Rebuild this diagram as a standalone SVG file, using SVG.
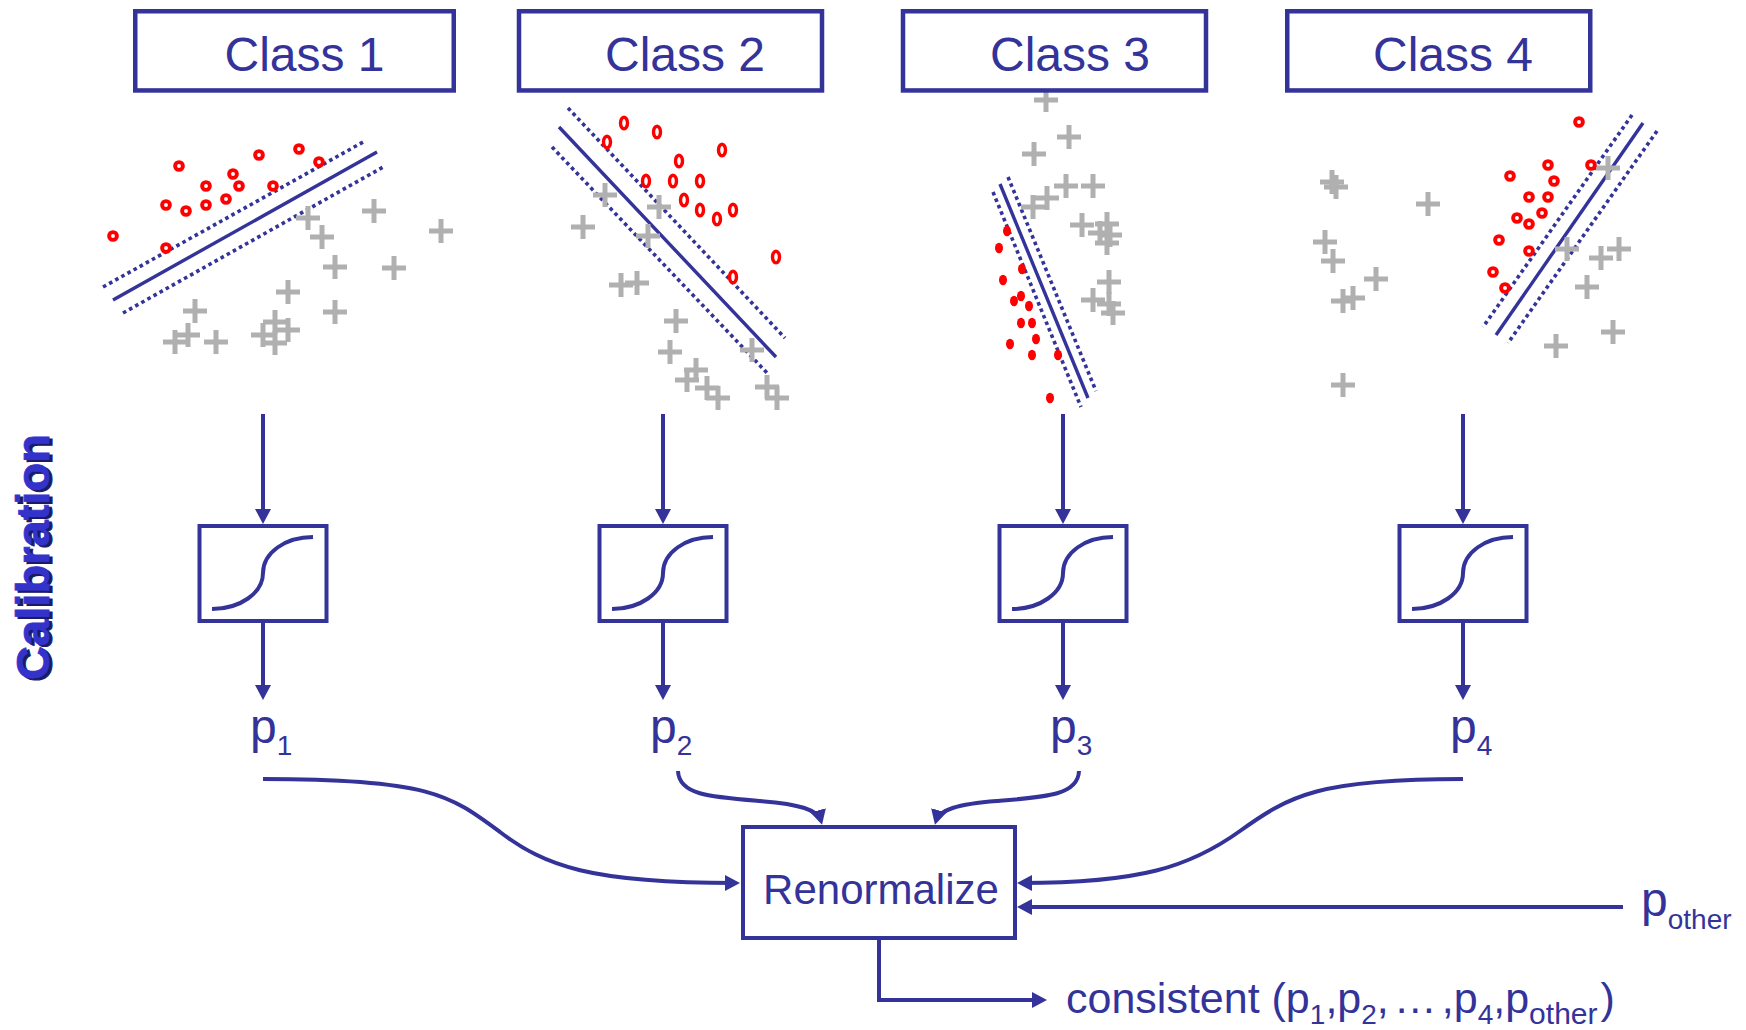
<svg xmlns="http://www.w3.org/2000/svg" width="1746" height="1030" viewBox="0 0 1746 1030">
<style>
.t{font-family:"Liberation Sans",Arial,Helvetica,sans-serif;fill:#333399}
.box{fill:#fff;stroke:#333399;stroke-width:4.5}
.cal{fill:#fff;stroke:#333399;stroke-width:4}
.sig{fill:none;stroke:#333399;stroke-width:4}
.sv{stroke:#333399;stroke-width:3.4;fill:none}
.dt{stroke:#333399;stroke-width:3.6;stroke-dasharray:3.6 3.4;fill:none}
.pl{stroke:#b0b0b0;stroke-width:5}
.ring{fill:#fff;stroke:#ff0000;stroke-width:3.9}
.oval{fill:#fff;stroke:#ff0000;stroke-width:3.4}
.fd{fill:#ff0000}
.conn{fill:none;stroke:#333399;stroke-width:4}
</style>
<defs>
<path id="plus" class="pl" d="M-12,0H12M0,-12V12"/>
<circle id="ring" class="ring" r="3.9"/>
<ellipse id="oval" class="oval" rx="3.5" ry="5.8"/>
<ellipse id="fdot" class="fd" rx="4" ry="5.3"/>
<marker id="ah" markerUnits="userSpaceOnUse" markerWidth="15" markerHeight="16" viewBox="0 0 15 16" refX="11" refY="8" orient="auto">
<path d="M0,0L15,8L0,16z" fill="#333399"/>
</marker>
</defs>

<!-- scatter plots -->
<g id="scatter-1">
<line class="sv" x1="113" y1="300" x2="377" y2="152"/>
<line class="dt" x1="103" y1="287" x2="365" y2="141"/>
<line class="dt" x1="123" y1="313" x2="385" y2="166"/>
<use href="#plus" x="308" y="218"/><use href="#plus" x="322" y="237"/><use href="#plus" x="374" y="211"/><use href="#plus" x="441" y="231"/>
<use href="#plus" x="335" y="267"/><use href="#plus" x="394" y="268"/><use href="#plus" x="288" y="292"/><use href="#plus" x="335" y="312"/>
<use href="#plus" x="195" y="311"/><use href="#plus" x="188" y="335"/><use href="#plus" x="175" y="342"/><use href="#plus" x="216" y="342"/>
<use href="#plus" x="275" y="322"/><use href="#plus" x="288" y="330"/><use href="#plus" x="263" y="335"/><use href="#plus" x="275" y="343"/>
<use href="#ring" x="113" y="236"/><use href="#ring" x="179" y="166"/><use href="#ring" x="166" y="205"/><use href="#ring" x="186" y="211"/>
<use href="#ring" x="206" y="186"/><use href="#ring" x="206" y="205"/><use href="#ring" x="226" y="199"/><use href="#ring" x="233" y="174"/>
<use href="#ring" x="239" y="186"/><use href="#ring" x="259" y="155"/><use href="#ring" x="273" y="186"/><use href="#ring" x="299" y="149"/>
<use href="#ring" x="319" y="162"/><use href="#ring" x="166" y="248"/>
</g>
<g id="scatter-2">
<line class="sv" x1="559" y1="127" x2="776" y2="357"/>
<line class="dt" x1="568" y1="108" x2="785" y2="338"/>
<line class="dt" x1="552" y1="147" x2="769" y2="375"/>
<use href="#plus" x="605" y="195"/><use href="#plus" x="659" y="207"/><use href="#plus" x="583" y="227"/><use href="#plus" x="648" y="236"/>
<use href="#plus" x="621" y="285"/><use href="#plus" x="637" y="283"/><use href="#plus" x="676" y="321"/><use href="#plus" x="670" y="352"/>
<use href="#plus" x="752" y="350"/><use href="#plus" x="696" y="370"/><use href="#plus" x="687" y="380"/><use href="#plus" x="707" y="388"/>
<use href="#plus" x="718" y="398"/><use href="#plus" x="767" y="387"/><use href="#plus" x="777" y="398"/>
<use href="#oval" x="624" y="123"/><use href="#oval" x="657" y="132"/><use href="#oval" x="607" y="142"/><use href="#oval" x="722" y="150"/>
<use href="#oval" x="679" y="161"/><use href="#oval" x="646" y="181"/><use href="#oval" x="673" y="181"/><use href="#oval" x="700" y="181"/>
<use href="#oval" x="684" y="200"/><use href="#oval" x="700" y="210"/><use href="#oval" x="717" y="219"/><use href="#oval" x="733" y="210"/>
<use href="#oval" x="776" y="257"/><use href="#oval" x="733" y="277"/>
</g>
<g id="scatter-3">
<line class="sv" x1="1000" y1="184" x2="1088" y2="398"/>
<line class="dt" x1="993" y1="192" x2="1081" y2="407"/>
<line class="dt" x1="1008" y1="177" x2="1096" y2="391"/>
<use href="#plus" x="1046" y="100"/><use href="#plus" x="1069" y="137"/><use href="#plus" x="1034" y="154"/><use href="#plus" x="1066" y="186"/>
<use href="#plus" x="1093" y="186"/><use href="#plus" x="1047" y="198"/><use href="#plus" x="1033" y="207"/><use href="#plus" x="1082" y="225"/>
<use href="#plus" x="1107" y="224"/><use href="#plus" x="1100" y="233"/><use href="#plus" x="1110" y="235"/><use href="#plus" x="1107" y="243"/>
<use href="#plus" x="1109" y="282"/><use href="#plus" x="1093" y="300"/><use href="#plus" x="1109" y="304"/><use href="#plus" x="1113" y="313"/>
<use href="#fdot" x="1007" y="231"/><use href="#fdot" x="999" y="248"/><use href="#fdot" x="1022" y="269"/><use href="#fdot" x="1003" y="280"/>
<use href="#fdot" x="1021" y="296"/><use href="#fdot" x="1014" y="301"/><use href="#fdot" x="1029" y="306"/><use href="#fdot" x="1021" y="323"/>
<use href="#fdot" x="1032" y="323"/><use href="#fdot" x="1036" y="339"/><use href="#fdot" x="1010" y="344"/><use href="#fdot" x="1032" y="355"/>
<use href="#fdot" x="1058" y="355"/><use href="#fdot" x="1050" y="398"/>
</g>
<g id="scatter-4">
<line class="sv" x1="1643" y1="123" x2="1496" y2="335"/>
<line class="dt" x1="1632" y1="115" x2="1483" y2="327"/>
<line class="dt" x1="1657" y1="131" x2="1508" y2="343"/>
<use href="#plus" x="1332" y="182"/><use href="#plus" x="1336" y="187"/><use href="#plus" x="1428" y="204"/><use href="#plus" x="1608" y="168"/>
<use href="#plus" x="1325" y="242"/><use href="#plus" x="1333" y="261"/><use href="#plus" x="1376" y="279"/><use href="#plus" x="1343" y="301"/>
<use href="#plus" x="1353" y="298"/><use href="#plus" x="1567" y="249"/><use href="#plus" x="1601" y="258"/><use href="#plus" x="1619" y="249"/>
<use href="#plus" x="1587" y="287"/><use href="#plus" x="1613" y="332"/><use href="#plus" x="1556" y="346"/><use href="#plus" x="1343" y="385"/>
<use href="#ring" x="1579" y="122"/><use href="#ring" x="1548" y="165"/><use href="#ring" x="1591" y="165"/><use href="#ring" x="1510" y="176"/>
<use href="#ring" x="1554" y="181"/><use href="#ring" x="1529" y="197"/><use href="#ring" x="1548" y="197"/><use href="#ring" x="1542" y="213"/>
<use href="#ring" x="1517" y="218"/><use href="#ring" x="1529" y="224"/><use href="#ring" x="1499" y="240"/><use href="#ring" x="1529" y="251"/>
<use href="#ring" x="1493" y="272"/><use href="#ring" x="1505" y="288"/>
</g>

<!-- class headers -->
<g id="class-1"><rect class="box" x="135.25" y="11.25" width="318.5" height="79.2"/><text class="t" x="224.5" y="70.5" font-size="48">Class 1</text></g>
<g id="class-2"><rect class="box" x="519" y="11.25" width="303" height="79.2"/><text class="t" x="605" y="70.5" font-size="48">Class 2</text></g>
<g id="class-3"><rect class="box" x="903" y="11.25" width="303" height="79.2"/><text class="t" x="990" y="70.5" font-size="48">Class 3</text></g>
<g id="class-4"><rect class="box" x="1287.25" y="11.25" width="303" height="79.2"/><text class="t" x="1373" y="70.5" font-size="48">Class 4</text></g>

<!-- side label -->
<g id="calibration-label" font-family="'Liberation Sans',Arial,Helvetica,sans-serif" font-weight="bold" font-size="47">
<text transform="translate(52,682) rotate(-90)" fill="#1a1a66" stroke="#1a1a66" stroke-width="1" textLength="246" lengthAdjust="spacingAndGlyphs">Calibration</text>
<text transform="translate(49,680) rotate(-90)" fill="#3333cc" stroke="#3333cc" stroke-width="0.8" textLength="246" lengthAdjust="spacingAndGlyphs">Calibration</text>
</g>

<!-- calibration nodes -->
<g id="calib-1"><rect class="cal" x="199.5" y="526" width="127" height="95"/><path class="sig" d="M212,609C240,609 263,593 263,573C263,553 285,537 313,537"/></g>
<g id="calib-2"><rect class="cal" x="599.5" y="526" width="127" height="95"/><path class="sig" d="M612,609C640,609 663,593 663,573C663,553 685,537 713,537"/></g>
<g id="calib-3"><rect class="cal" x="999.5" y="526" width="127" height="95"/><path class="sig" d="M1012,609C1040,609 1063,593 1063,573C1063,553 1085,537 1113,537"/></g>
<g id="calib-4"><rect class="cal" x="1399.5" y="526" width="127" height="95"/><path class="sig" d="M1412,609C1440,609 1463,593 1463,573C1463,553 1485,537 1513,537"/></g>

<!-- probability labels -->
<g id="p1"><text class="t" x="250" y="743" font-size="48">p<tspan font-size="28" dy="12">1</tspan></text></g>
<g id="p2"><text class="t" x="650" y="743" font-size="48">p<tspan font-size="28" dy="12">2</tspan></text></g>
<g id="p3"><text class="t" x="1050" y="743" font-size="48">p<tspan font-size="28" dy="12">3</tspan></text></g>
<g id="p4"><text class="t" x="1450" y="743" font-size="48">p<tspan font-size="28" dy="12">4</tspan></text></g>
<g id="p-other"><text class="t" x="1641" y="916" font-size="48">p<tspan font-size="28" dy="13">other</tspan></text></g>

<!-- renormalize node -->
<g id="renormalize"><rect class="cal" x="743" y="827" width="272" height="111"/><text class="t" x="881" y="904" font-size="42" text-anchor="middle">Renormalize</text></g>

<!-- output -->
<g id="output"><text class="t" x="1066" y="1013" font-size="43">consistent (p<tspan font-size="28" dy="11">1</tspan><tspan dy="-11">,p</tspan><tspan font-size="28" dy="11">2</tspan><tspan dy="-11">,</tspan><tspan dx="5">…</tspan><tspan dx="5">,p</tspan><tspan font-size="28" dy="11">4</tspan><tspan dy="-11">,p</tspan><tspan font-size="30" dy="11">other</tspan><tspan dx="3" dy="-11">)</tspan></text></g>

<!-- connectors -->
<g id="connectors" class="conn" marker-end="url(#ah)">
<path d="M263,414V520"/><path d="M663,414V520"/><path d="M1063,414V520"/><path d="M1463,414V520"/>
<path d="M263,623V696"/><path d="M663,623V696"/><path d="M1063,623V696"/><path d="M1463,623V696"/>
<path d="M263,779C430,779 450,795 500,832C545,866 590,883 736,883"/>
<path d="M678,771C679,795 710,797 760,801C800,804 818,810 821,821"/>
<path d="M1079,771C1078,795 1047,797 997,801C957,804 939,810 936,821"/>
<path d="M1463,779C1320,779 1290,795 1240,831C1190,867 1140,883 1021,883"/>
<path d="M1623,907H1021"/>
<path d="M879,940V1000H1043"/>
</g>
</svg>
